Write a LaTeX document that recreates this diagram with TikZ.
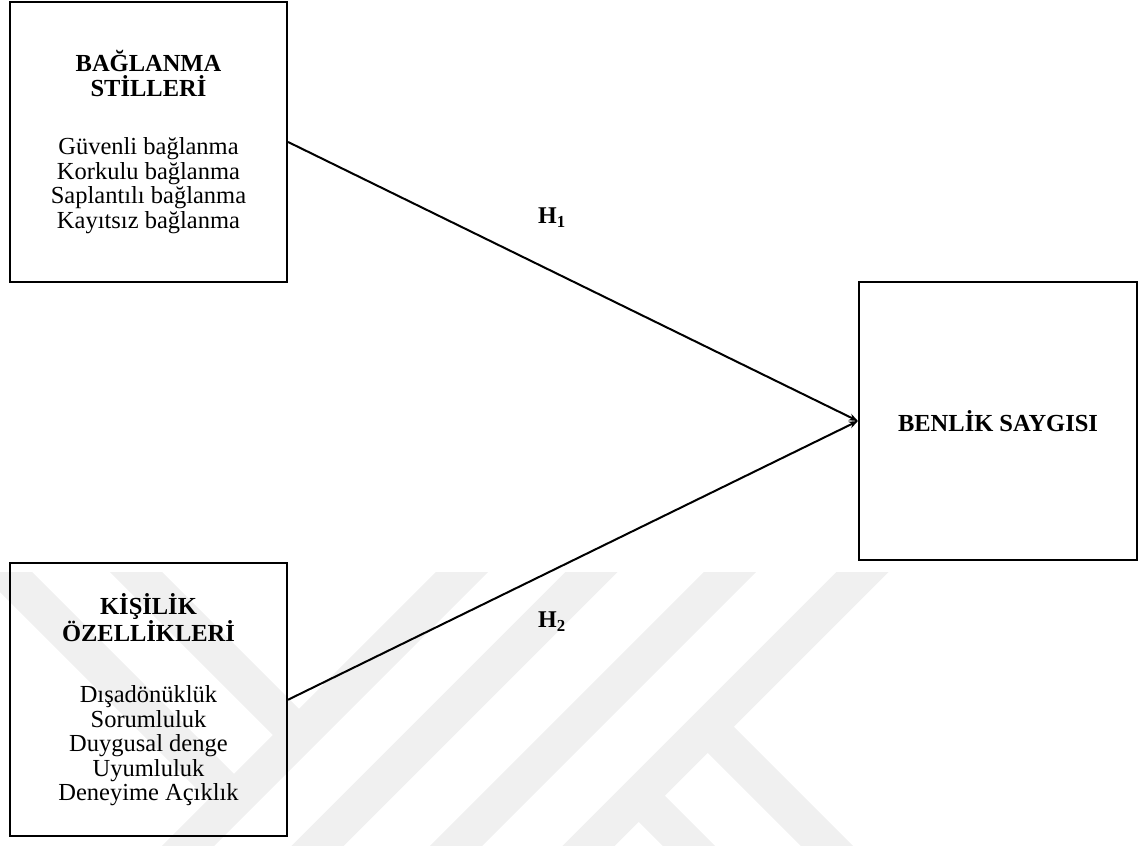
\documentclass[tikz,border=0pt]{standalone}
\usepackage{fontspec}
\setmainfont{Liberation Serif}
\usetikzlibrary{arrows.meta,positioning}
\definecolor{wmgray}{HTML}{F0F0F0}

\begin{document}
\begin{tikzpicture}[x=1pt,y=-1pt,
        factor/.style={draw,line width=2.2pt,minimum width=277pt,align=center,
                font=\fontsize{24.5}{24.5}\selectfont},
        hyp/.style={font=\fontsize{24}{24}\selectfont\bfseries},
        link/.style={line width=2pt,-{Stealth[length=9pt,width=7pt]}},
        wmband/.style={wmgray,line width=37pt}]
        \useasboundingbox (0,0) rectangle (1147,845);
        % faint watermark behind the model
        \begin{scope}
                \clip (0,572) rectangle (1147,845);
                \foreach \c in {462,591.5,730,862.5}
                        \draw[wmband] (\c+40,532) -- (\c-313,885);
                \draw[wmband] (-34,532) -- (234,800);
                \draw[wmband] (96,532) -- (299,735);
                \draw[wmband] (707.75,726.75) -- (867.75,886.75);
                \draw[wmband] (638.75,795.75) -- (738.75,895.75);
        \end{scope}

        \node[factor,minimum height=280pt] (baglanma) at (148.5,142)
                {\textbf{BAĞLANMA}\\\textbf{STİLLERİ}\\[34pt]Güvenli bağlanma\\Korkulu bağlanma\\Saplantılı bağlanma\\Kayıtsız bağlanma};
        \node[factor,minimum height=273pt] (kisilik) [below=279pt of baglanma]
                {\textbf{KİŞİLİK}\\\textbf{ÖZELLİKLERİ}\\[37pt]Dışadönüklük\\Sorumluluk\\Duygusal denge\\Uyumluluk\\Deneyime Açıklık};
        \node[factor,minimum width=278pt,minimum height=278pt] (benlik) at (998,421) {\textbf{BENLİK SAYGISI}};
        \node[hyp] (h1) at (552,218) {H\textsubscript{1}};
        \node[hyp] (h2) at (552,622) {H\textsubscript{2}};
        \draw[link] (baglanma.east) -- (benlik.west);
        \draw[link] (kisilik.east) -- (benlik.west);
\end{tikzpicture}
\end{document}
